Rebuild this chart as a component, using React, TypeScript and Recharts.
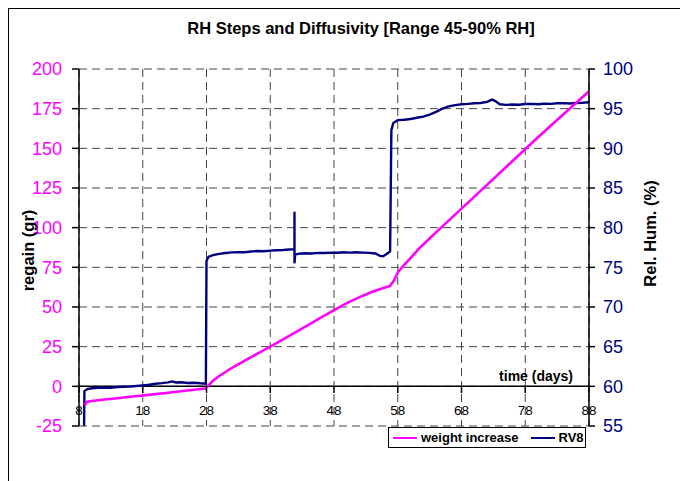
import { CartesianGrid, Legend, Line, LineChart, ReferenceLine, XAxis, YAxis } from "recharts";

// weight increase (left axis, gr)
const weightDays = [8.9, 9.2, 10, 12, 14, 16, 18, 20, 22, 24, 26, 27.8, 28.3, 29, 30, 32, 34, 36, 38, 40, 42, 44, 46, 48, 50, 52, 54, 56, 56.8, 57.3, 58.1, 59, 60, 61.5, 64, 68, 72, 76, 80, 84, 88];
const weightValues = [-12, -9.8, -9.2, -8.3, -7.5, -6.6, -5.8, -4.9, -4.0, -3.1, -2.2, -1.4, 0.5, 3.5, 6.5, 11.7, 16.2, 20.6, 25, 29.6, 34.2, 38.8, 43.4, 48, 52.4, 56.2, 59.6, 62.3, 63.3, 66, 72.3, 76.5, 80.8, 87.5, 97, 112, 127, 142, 157, 171.5, 186];

// RV8 relative humidity (right axis, %)
const rhDays = [8.8, 8.85, 9.3, 10, 11, 12, 13, 14, 15, 16, 17, 18, 19, 20, 21, 22, 22.6, 23.2, 24, 25, 26, 27, 27.9, 28.0, 28.3, 29, 30, 31, 32, 33, 34, 35, 36, 37, 38, 39, 40, 41, 41.8, 41.8, 41.8, 41.9, 42.5, 43.5, 44.5, 45.5, 46.5, 47.5, 48.5, 49.5, 50.5, 51.5, 52.5, 53.5, 54.5, 55.2, 55.7, 56.2, 56.8, 57.0, 57.3, 58, 59, 60, 61, 62, 63, 64, 65, 66, 67, 68, 69, 70, 71, 72, 72.8, 73.3, 74, 75, 76, 77, 78, 79, 80, 81, 82, 83, 84, 85, 86, 87, 88];
const rhValues = [55, 59.4, 59.65, 59.75, 59.8, 59.85, 59.82, 59.9, 59.95, 59.98, 60.05, 60.12, 60.2, 60.32, 60.4, 60.5, 60.62, 60.48, 60.52, 60.42, 60.46, 60.38, 60.33, 75.8, 76.3, 76.55, 76.7, 76.8, 76.88, 76.92, 76.9, 77.0, 77.05, 77.02, 77.1, 77.15, 77.18, 77.25, 77.3, 82.0, 75.5, 76.6, 76.72, 76.78, 76.75, 76.82, 76.8, 76.86, 76.84, 76.9, 76.85, 76.9, 76.86, 76.82, 76.75, 76.45, 76.4, 76.65, 77.0, 92.3, 93.2, 93.55, 93.6, 93.7, 93.85, 94.0, 94.25, 94.6, 95.0, 95.3, 95.45, 95.55, 95.6, 95.68, 95.72, 95.85, 96.15, 95.95, 95.55, 95.48, 95.52, 95.5, 95.58, 95.6, 95.55, 95.62, 95.6, 95.68, 95.7, 95.65, 95.72, 95.75, 95.8];

const dayTicks = [8, 18, 28, 38, 48, 58, 68, 78, 88];
const regainTicks = [-25, 0, 25, 50, 75, 100, 125, 150, 175, 200];
const rhTicks = [55, 60, 65, 70, 75, 80, 85, 90, 95, 100];

const weightData = weightDays.map((d, i) => ({ day: d, weight: weightValues[i] }));
const rhData = rhDays.map((d, i) => ({ day: d, rh: rhValues[i] }));

const FONT = '"Liberation Sans", Arial, sans-serif';
const MAGENTA = "#ff00ff";
const NAVY = "#000080";

function DayTick({ x, y, payload }: any) {
  return (
    <g>
      <line x1={x} x2={x} y1={y - 40} y2={y - 33} stroke="#000" strokeWidth={1.5} />
      <text x={x} y={y - 11} textAnchor="middle" fontSize={13.5} fill="#000" fontFamily={FONT}>
        {payload.value}
      </text>
    </g>
  );
}

function LegendBox({ payload }: any) {
  const order = ["weight increase", "RV8"];
  const items = [...(payload || [])].sort((a, b) => order.indexOf(a.value) - order.indexOf(b.value));
  return (
    <div
      style={{
        border: "1px solid #000",
        background: "#fff",
        width: 198,
        height: 21,
        boxSizing: "border-box",
        display: "flex",
        alignItems: "center",
        padding: "0 4px",
        whiteSpace: "nowrap",
        fontFamily: FONT,
        fontWeight: "bold",
        fontSize: 13,
        lineHeight: "15px",
        color: "#000",
      }}
    >
      {items.map((it: any, i: number) => (
        <span key={it.value} style={{ display: "flex", alignItems: "center", marginLeft: i ? 12 : 0 }}>
          <span style={{ display: "inline-block", width: 24, borderTop: `2px solid ${it.color}`, marginRight: 4 }} />
          {it.value}
        </span>
      ))}
    </div>
  );
}

export default function App() {
  return (
    <div style={{ position: "relative", width: 680, height: 473, fontFamily: FONT }}>
      <div
        style={{
          position: "absolute",
          left: 0,
          top: 0,
          width: 680,
          height: 473,
          boxSizing: "border-box",
          borderLeft: "1px solid #000",
          borderTop: "1px solid #000",
          pointerEvents: "none",
        }}
      />
      <div
        style={{
          position: "absolute",
          left: 103,
          top: 10,
          width: 500,
          textAlign: "center",
          fontSize: 16.5,
          lineHeight: "20px",
          fontWeight: "bold",
          color: "#000",
        }}
      >
        RH Steps and Diffusivity [Range 45-90% RH]
      </div>
      <LineChart width={680} height={473} margin={{ top: 61, right: 29, bottom: 35, left: 11 }}>
        <CartesianGrid yAxisId="left" stroke="#444" strokeDasharray="8 5" />
        <XAxis
          dataKey="day"
          type="number"
          domain={[8, 88]}
          ticks={dayTicks}
          allowDataOverflow
          axisLine={false}
          tickLine={false}
          tickSize={0}
          tickMargin={0}
          height={20}
          tick={<DayTick />}
        />
        <YAxis
          yAxisId="left"
          domain={[-25, 200]}
          ticks={regainTicks}
          allowDataOverflow
          width={60}
          axisLine={{ stroke: "#000", strokeWidth: 1.5 }}
          tickLine={{ stroke: "#000", strokeWidth: 1.5 }}
          tickSize={7}
          tickMargin={10}
          tick={{ fill: MAGENTA, fontSize: 18, fontFamily: FONT }}
          label={{ value: "regain (gr)", angle: -90, position: "center", dx: -21, dy: 3, fill: "#000", fontSize: 16.5, fontWeight: "bold", fontFamily: FONT }}
        />
        <YAxis
          yAxisId="right"
          orientation="right"
          domain={[55, 100]}
          ticks={rhTicks}
          allowDataOverflow
          width={70}
          axisLine={{ stroke: "#000", strokeWidth: 1.5 }}
          tickLine={{ stroke: "#000", strokeWidth: 1.5 }}
          tickSize={6}
          tickMargin={8}
          tick={{ fill: NAVY, fontSize: 18, fontFamily: FONT }}
          label={{ value: "Rel. Hum. (%)", angle: -90, position: "center", dx: 26, dy: -14, fill: "#000", fontSize: 16.5, fontWeight: "bold", fontFamily: FONT }}
        />
        <ReferenceLine
          yAxisId="left"
          y={0}
          stroke="#000"
          strokeWidth={1.5}
          label={{ value: "time (days)", position: "insideBottomRight", offset: 5, dx: -11, fill: "#000", fontSize: 14, fontWeight: "bold", fontFamily: FONT }}
        />
        <Line
          yAxisId="right"
          data={rhData}
          dataKey="rh"
          name="RV8"
          type="linear"
          stroke={NAVY}
          strokeWidth={2.4}
          dot={false}
          isAnimationActive={false}
        />
        <Line
          yAxisId="left"
          data={weightData}
          dataKey="weight"
          name="weight increase"
          type="linear"
          stroke={MAGENTA}
          strokeWidth={2.6}
          dot={false}
          isAnimationActive={false}
        />
        <Legend
          layout="horizontal"
          align="center"
          verticalAlign="middle"
          content={<LegendBox />}
          wrapperStyle={{ left: 380, top: 419, width: 198, height: 21 }}
        />
      </LineChart>
    </div>
  );
}
